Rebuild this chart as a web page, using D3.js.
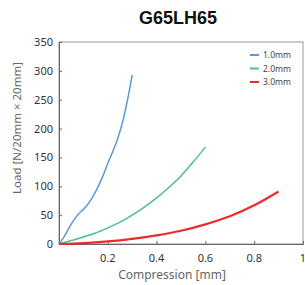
<!DOCTYPE html>
<html>
<head>
<meta charset="utf-8">
<script src="https://cdn.jsdelivr.net/npm/d3@7"></script>
<style>
  body { margin: 0; background: #fff; }
  svg { display: block; font-family: "Noto Sans", "Open Sans", sans-serif; }
</style>
</head>
<body>
<div id="chart"></div>
<script>
// 数据: 压缩量 [mm] 与 载荷
var seriesNames = ["1.0mm", "2.0mm", "3.0mm"];
var seriesColors = ["#5b9bd5", "#4cc08c", "#ee2b2b"];

var blueX = [0, 0.02, 0.04, 0.06, 0.08, 0.10, 0.12, 0.14, 0.16, 0.18, 0.20, 0.22, 0.24, 0.26, 0.28, 0.30];
var blueY = [0, 12, 27, 41, 52, 60, 70, 83, 99, 118, 140, 160, 182, 210, 248, 293];

var greenX = [0, 0.05, 0.1, 0.15, 0.2, 0.25, 0.3, 0.35, 0.4, 0.45, 0.5, 0.55, 0.6];
var greenY = [0, 6, 12, 19, 28, 38, 50, 64, 80, 98, 118, 142, 168];

var redX = [0, 0.1, 0.2, 0.3, 0.4, 0.5, 0.6, 0.7, 0.8, 0.9];
var redY = [0, 1.5, 4.5, 9, 15, 23, 34, 48, 67, 91];

var xTicks = [0.2, 0.4, 0.6, 0.8, 1];
var yTicks = [0, 50, 100, 150, 200, 250, 300, 350];

(function () {
    var W = 305, H = 285;
    // 注意: 不能用全局变量名 top (window.top 只读)
    var mLeft = 59, mRight = 303, mTop = 42, mBottom = 244;

    var svg = d3.select("#chart").append("svg")
        .attr("width", W)
        .attr("height", H);

    var x = d3.scaleLinear().domain([0, 1]).range([mLeft, mRight]);
    var y = d3.scaleLinear().domain([0, 350]).range([mBottom, mTop]);

    // 外框
    svg.append("rect")
        .attr("x", mLeft).attr("y", mTop)
        .attr("width", mRight - mLeft).attr("height", mBottom - mTop)
        .attr("fill", "none")
        .attr("stroke", "#999")
        .attr("stroke-width", 1);

    // y轴 (刻度朝内)
    var yAxis = svg.append("g")
        .attr("transform", "translate(" + mLeft + ",0)")
        .call(d3.axisRight(y).tickValues(yTicks).tickSize(3).tickFormat(""));
    yAxis.select(".domain").attr("stroke", "#666");
    yAxis.selectAll(".tick line").attr("stroke", "#666");

    svg.append("g").selectAll("text")
        .data(yTicks)
        .enter().append("text")
        .attr("x", mLeft - 6)
        .attr("y", function (d) {return y(d) + 4;})
        .attr("text-anchor", "end")
        .style("font-size", "11px")
        .style("fill", "#333")
        .text(function (d) {return d;});

    // x轴
    var xAxis = svg.append("g")
        .attr("transform", "translate(0," + mBottom + ")")
        .call(d3.axisTop(x).tickValues(xTicks).tickSize(3).tickFormat(""));
    xAxis.select(".domain").attr("stroke", "#666");
    xAxis.selectAll(".tick line").attr("stroke", "#666");

    svg.append("g").selectAll("text")
        .data(xTicks)
        .enter().append("text")
        .attr("x", function (d) {return x(d);})
        .attr("y", mBottom + 18)
        .attr("text-anchor", "middle")
        .style("font-size", "11px")
        .style("fill", "#333")
        .text(function (d) {return d === 1 ? "1" : d.toFixed(1);});

    // 曲线
    var line = d3.line()
        .x(function (d) {return x(d[0]);})
        .y(function (d) {return y(d[1]);})
        .curve(d3.curveMonotoneX);

    var series = [
        d3.zip(blueX, blueY),
        d3.zip(greenX, greenY),
        d3.zip(redX, redY)
    ];
    var widths = [1.5, 1.5, 2.2];

    svg.append("g").selectAll("path")
        .data(series)
        .enter().append("path")
        .attr("d", line)
        .attr("fill", "none")
        .attr("stroke", function (d, i) {return seriesColors[i];})
        .attr("stroke-width", function (d, i) {return widths[i];});

    // 图例
    var legend = svg.append("g").selectAll("g")
        .data(seriesNames)
        .enter().append("g")
        .attr("transform", function (d, i) {return "translate(250," + (55 + i * 13.5) + ")";});
    legend.append("line")
        .attr("x1", 0).attr("x2", 9)
        .attr("stroke", function (d, i) {return seriesColors[i];})
        .attr("stroke-width", 2);
    legend.append("text")
        .attr("x", 13).attr("y", 3)
        .style("font-size", "8.5px")
        .style("fill", "#444")
        .text(function (d) {return d;});

    // 标题与轴标题
    svg.append("text")
        .attr("x", 178).attr("y", 24)
        .attr("text-anchor", "middle")
        .style("font-family", "'Liberation Sans', Arial, sans-serif")
        .style("font-size", "18px")
        .style("font-weight", "bold")
        .style("fill", "#111")
        .text("G65LH65");

    svg.append("text")
        .attr("x", 172).attr("y", 279)
        .attr("text-anchor", "middle")
        .style("font-size", "12px")
        .style("fill", "#666")
        .text("Compression [mm]");

    svg.append("text")
        .attr("transform", "translate(21,128)rotate(-90)")
        .attr("text-anchor", "middle")
        .style("font-size", "11.5px")
        .style("fill", "#666")
        .text("Load [N/20mm × 20mm]");
})();
</script>
</body>
</html>
